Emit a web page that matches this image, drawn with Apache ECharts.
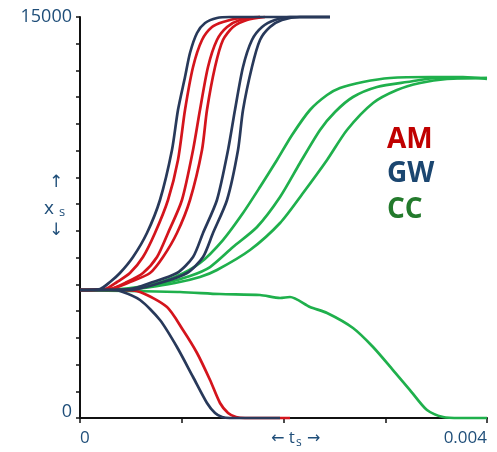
<!DOCTYPE html>
<html>
<head>
<meta charset="utf-8">
<script src="https://cdn.jsdelivr.net/npm/echarts@6/dist/echarts.min.js"></script>
<style>html,body{margin:0;padding:0;background:#fff}#c{width:497px;height:452px}</style>
</head>
<body>
<div id="c"></div>
<script>
// time in units of 0.001 (axis label 0.004 = 4), value x_s
const xTicks = [0, 1, 2, 3, 4];
const xTickLabels = { 0: '0', 4: '0.004' };
const yTickLabels = { 0: '0', 15000: '15000' };

const gwUp1 = [[0,4788],[0.197,4825],[0.295,5087],[0.393,5424],[0.521,6022],[0.658,6920],[0.786,8155],[0.904,10025],[0.963,11521],[1.032,12755],[1.081,13653],[1.150,14401],[1.229,14775],[1.346,14963],[1.474,15000],[2.457,15000]];
const gwUp2 = [[0,4788],[0.491,4825],[0.688,5050],[0.953,5424],[1.111,6022],[1.209,6920],[1.346,8155],[1.455,10025],[1.523,11521],[1.602,13130],[1.690,14140],[1.789,14626],[1.916,14888],[2.064,15000],[2.457,15000]];
const gwUp3 = [[0,4788],[0.491,4788],[0.786,5050],[1.052,5424],[1.209,6022],[1.307,6920],[1.445,8155],[1.553,10025],[1.602,11521],[1.690,13130],[1.769,14140],[1.867,14626],[1.985,14888],[2.162,15000],[2.457,15000]];
const gwDown = [[0,4788],[0.295,4788],[0.393,4751],[0.590,4414],[0.786,3666],[0.953,2656],[1.111,1534],[1.248,561],[1.327,187],[1.396,37],[1.474,0],[1.966,0]];

const amUp1 = [[0,4788],[0.246,4825],[0.364,5087],[0.491,5424],[0.619,6022],[0.737,6920],[0.865,8155],[0.963,9651],[1.032,11521],[1.111,13130],[1.199,14140],[1.297,14626],[1.405,14813],[1.572,14963],[1.769,15000]];
const amUp2 = [[0,4788],[0.295,4825],[0.462,5087],[0.619,5424],[0.757,6022],[0.865,6920],[1.002,8155],[1.111,10025],[1.179,11521],[1.258,13130],[1.346,14140],[1.445,14626],[1.572,14888],[1.769,15000]];
const amUp3 = [[0,4788],[0.295,4825],[0.491,5087],[0.688,5424],[0.816,6022],[0.953,6920],[1.081,8155],[1.199,10025],[1.248,11521],[1.327,13130],[1.405,14140],[1.504,14626],[1.641,14888],[1.818,15000]];
const amDown = [[0,4788],[0.393,4788],[0.590,4713],[0.855,4152],[1.012,3292],[1.150,2431],[1.278,1421],[1.376,561],[1.455,187],[1.533,37],[1.622,0],[2.064,0]];

const ccUp1 = [[0,4788],[0.393,4825],[0.688,4975],[0.934,5274],[1.179,5798],[1.405,6658],[1.602,7668],[1.769,8641],[1.936,9651],[2.084,10586],[2.260,11521],[2.428,12082],[2.555,12344],[2.781,12568],[3.047,12718],[3.440,12755],[3.764,12755],[4.000,12681]];
const ccUp2 = [[0,4788],[0.491,4825],[0.835,5050],[1.081,5312],[1.278,5648],[1.504,6396],[1.740,7145],[1.966,8267],[2.162,9539],[2.359,10773],[2.506,11446],[2.683,12007],[2.919,12381],[3.214,12568],[3.508,12718],[4.000,12718]];
const ccUp3 = [[0,4788],[0.541,4825],[0.934,5050],[1.179,5274],[1.346,5536],[1.671,6284],[1.966,7294],[2.192,8416],[2.428,9651],[2.624,10773],[2.880,11783],[3.115,12269],[3.342,12531],[3.607,12681],[4.000,12718]];
const ccDown = [[0,4788],[0.491,4751],[0.983,4713],[1.376,4638],[1.769,4601],[1.966,4489],[2.064,4526],[2.260,4152],[2.428,3928],[2.683,3367],[2.880,2656],[3.076,1795],[3.243,1047],[3.410,299],[3.568,37],[3.735,0],[4.000,0]];

const legendLabels = ['AM', 'GW', 'CC'];

const RED = '#d4141c', NAVY = '#28395a', GREEN = '#1fb04c';
const TXT = '#1f4e79';

function line(data, color) {
  return { type: 'line', data: data, showSymbol: false, smooth: 0.25, clip: false,
    lineStyle: { color: color, width: 2.7 }, silent: true };
}

const chart = echarts.init(document.getElementById('c'), null, { renderer: 'canvas' });
chart.setOption({
  animation: false,
  backgroundColor: '#fff',
  grid: { left: 80, right: 10, top: 17, bottom: 34, containLabel: false },
  xAxis: {
    type: 'value', min: xTicks[0], max: xTicks[xTicks.length - 1], interval: 1,
    axisLine: { lineStyle: { color: '#111', width: 2 } },
    axisTick: { show: true, inside: false, length: 5, lineStyle: { color: '#111', width: 1.5 } },
    splitLine: { show: false },
    axisLabel: { margin: 12, color: TXT, fontSize: 17, fontFamily: 'Open Sans',
      alignMinLabel: 'left', alignMaxLabel: 'right',
      formatter: v => (xTickLabels[v] !== undefined ? xTickLabels[v] : '') }
  },
  yAxis: {
    type: 'value', min: 0, max: 15000, interval: 1000,
    axisLine: { show: true, lineStyle: { color: '#111', width: 2 } },
    axisTick: { show: true, inside: false, length: 4, lineStyle: { color: '#111', width: 1.5 } },
    splitLine: { show: false },
    axisLabel: { margin: 8, color: TXT, fontSize: 18, fontFamily: 'Open Sans',
      formatter: v => (v === 0 ? '{z|0}' : (yTickLabels[v] !== undefined ? yTickLabels[v] : '')),
      rich: { z: { color: TXT, fontSize: 18, fontFamily: 'Open Sans', padding: [0, 0, 12, 0] } } }
  },
  series: [
    line(ccDown, GREEN), line(ccUp3, GREEN), line(ccUp2, GREEN), line(ccUp1, GREEN),
    line(amDown, RED), line(amUp3, RED), line(amUp2, RED), line(amUp1, RED),
    line(gwDown, NAVY), line(gwUp3, NAVY), line(gwUp2, NAVY), line(gwUp1, NAVY)
  ],
  graphic: [
    { type: 'text', left: 271, top: 430, style: { text: '←{t| t}{s|s}{t| }→', fill: TXT, font: '16px "DejaVu Sans"',
      rich: { t: { fontSize: 17, fill: TXT, fontFamily: 'Open Sans' },
              s: { fontSize: 12, fill: TXT, fontFamily: 'Open Sans', padding: [8, 1, 0, 1] } } } },
    { type: 'text', left: 49, top: 174, style: { text: '↑', fill: TXT, font: '17px "DejaVu Sans"' } },
    { type: 'text', left: 44, top: 199, style: { text: 'x{s|s}', fill: TXT, font: '19px "Open Sans"',
      rich: { s: { fontSize: 13, fill: TXT, fontFamily: 'Open Sans', padding: [8, 0, 0, 5] } } } },
    { type: 'text', left: 49, top: 222, style: { text: '↓', fill: TXT, font: '17px "DejaVu Sans"' } },
    { type: 'text', left: 387, top: 126, style: { text: legendLabels[0], fill: '#c00000', font: 'bold 28px "Open Sans"' } },
    { type: 'text', left: 387, top: 160, style: { text: legendLabels[1], fill: '#1b4670', font: 'bold 28px "Open Sans"' } },
    { type: 'text', left: 387, top: 196, style: { text: legendLabels[2], fill: '#237a2c', font: 'bold 28px "Open Sans"' } }
  ]
});
</script>
</body>
</html>
